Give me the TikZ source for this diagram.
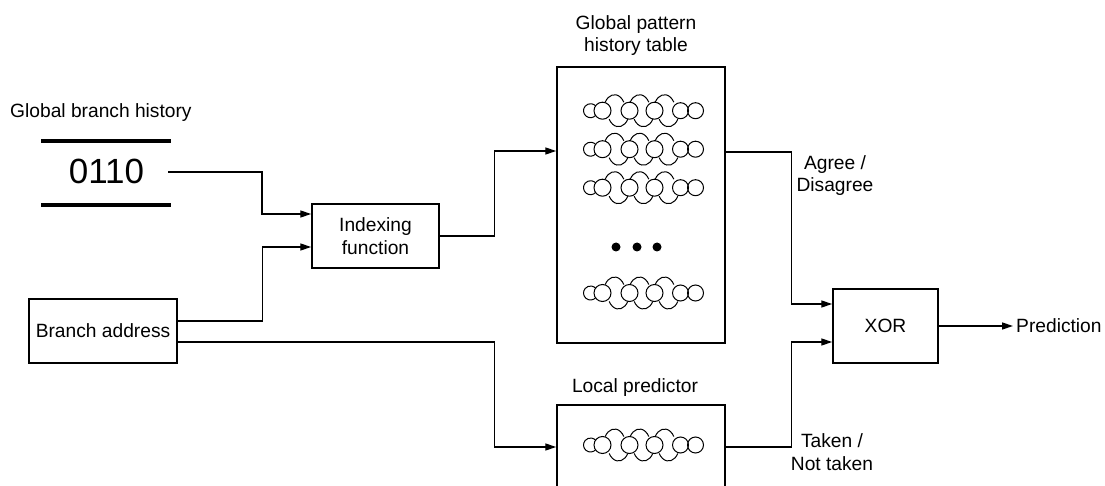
\documentclass[tikz,border=0pt]{standalone}
\usepackage{fontspec}
\setmainfont{Liberation Sans}
\usetikzlibrary{arrows.meta,calc}
\begin{document}
\begin{tikzpicture}[x=1pt,y=-1pt,
  box/.style={draw,line width=1.5pt,inner sep=0pt,font=\fontsize{19.2}{23.5}\selectfont,align=center},
  lbl/.style={font=\fontsize{19.2}{22.5}\selectfont,inner sep=0pt,align=center},
  conn/.style={line width=1.4pt},
  arr/.style={conn,-{Triangle[length=11pt,width=7pt]}},
  bar/.style={line width=4.5pt},
  chain/.pic={
    \begin{scope}[line width=1pt]
      \draw ([shift={(-52,0)}]40:7) arc (40:320:7);
      \foreach \cx/\r in {-40/8.5,-13/8.5,12/8.5,38/8,53/8} \draw (\cx,0) circle[radius=\r];
      \foreach \c in {-26,-1,24} {
        \draw ([shift={(\c-2,0)}]212:11 and 16) arc (212:328:11 and 16);
        \draw ([shift={(\c+2,0)}]32:11 and 16) arc (32:148:11 and 16);
      }
    \end{scope}
  }
]
\useasboundingbox (0,0) rectangle (1105,486);
\clip (0,0) rectangle (1105,486);

% Global branch history
\node[lbl,anchor=base west] (ghl) at (10,118) {Global branch history};
\draw[bar] (41,141) -- (171,141);
\draw[bar] (41,205) -- (171,205);
\node[font=\fontsize{35}{40}\selectfont,inner ysep=0pt,inner xsep=0pt,anchor=center] (histtext) at (106.5,171) {0110};
\coordinate (hist) at (168,172);

% boxes
\node[box,minimum width=148pt,minimum height=64pt] (ba) at (103,331) {Branch address};
\node[box,minimum width=127pt,minimum height=64pt] (idx) at (375.5,236) {Indexing\\function};
\node[box,minimum width=168pt,minimum height=276pt] (gpt) at (641,205) {};
\node[box,minimum width=168pt,minimum height=84pt] (lp) at (641,447) {};
\node[box,minimum width=105pt,minimum height=74pt] (xor) at (885.5,326) {XOR};

% labels
\node[lbl,anchor=base] (gptl) at (636,52) {Global pattern\\history table};
\node[lbl,anchor=base] (lpl) at (635,392) {Local predictor};
\node[lbl,anchor=base] (agl) at (835,192) {Agree /\\Disagree};
\node[lbl,anchor=base] (tkl) at (832,470) {Taken /\\Not taken};
\node[lbl,anchor=west] (pred) at (1016,326) {Prediction};

% table contents
\foreach \yy in {110.7,149.2,187.7,293} \pic at (642.5,\yy) {chain};
\pic at (642.5,445) {chain};
\foreach \xx in {616,637,657} \fill (\xx,247) circle[radius=4.5];

% connectors
\draw[arr] (hist) -- ++(94,0) |- ([yshift=22pt]idx.west);
\draw[arr] ([yshift=10pt]ba.east) -- ++(85,0) |- ([yshift=-11pt]idx.west);
\draw[arr] ([yshift=-11pt]ba.east) -- ++(317,0) |- (lp.west);
\draw[arr] (idx.east) -- ++(55,0) |- ([yshift=54pt]gpt.west);
\draw[arr] ([yshift=53pt]gpt.east) -- ++(66,0) |- ([yshift=22pt]xor.west);
\draw[arr] (lp.east) -- ++(66,0) |- ([yshift=-16pt]xor.west);
\draw[arr,shorten >=3pt] (xor.east) -- (pred.west);
\end{tikzpicture}
\end{document}
